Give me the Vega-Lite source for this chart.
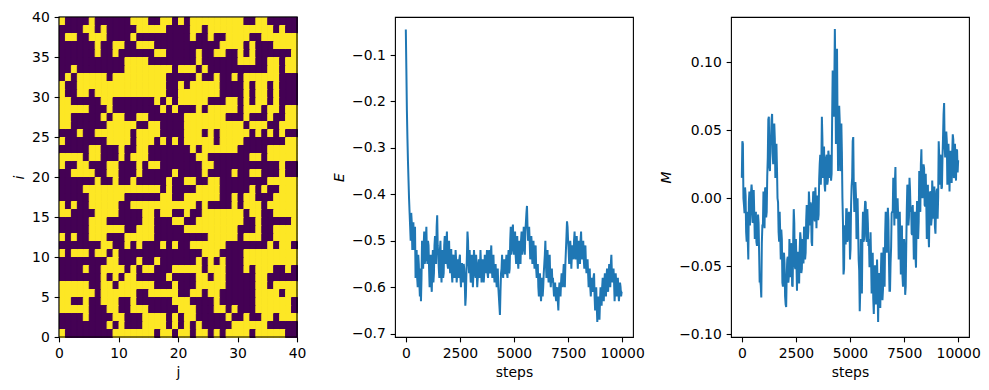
{
"$schema":"https://vega.github.io/schema/vega-lite/v6.json",
"background":"white",
"padding":{"left":12,"top":9,"right":5,"bottom":5},
"spacing":98,
"bounds":"flush",
"config":{
"font":"DejaVu Sans",
"view":{"stroke":"black","strokeWidth":1.1},
"axis":{"domain":false,"grid":false,"tickColor":"black","tickSize":4.86,"tickWidth":1.1,"labelPadding":4.86,"labelFontSize":13.9,"labelColor":"black","labelFont":"DejaVu Sans","titleFont":"DejaVu Sans","titleFontSize":13.9,"titleFontWeight":"normal","titleColor":"black","titlePadding":5,"labelFlush":false,"labelOverlap":false}
},
"datasets":{
"grid":[
{"i":39,"j":0,"s":1},{"i":39,"j":1,"s":0},{"i":39,"j":2,"s":0},{"i":39,"j":3,"s":0},{"i":39,"j":4,"s":0},{"i":39,"j":5,"s":1},{"i":39,"j":6,"s":0},{"i":39,"j":7,"s":0},{"i":39,"j":8,"s":0},{"i":39,"j":9,"s":0},{"i":39,"j":10,"s":0},{"i":39,"j":11,"s":0},{"i":39,"j":12,"s":1},{"i":39,"j":13,"s":1},{"i":39,"j":14,"s":1},{"i":39,"j":15,"s":0},{"i":39,"j":16,"s":0},{"i":39,"j":17,"s":1},{"i":39,"j":18,"s":1},{"i":39,"j":19,"s":0},{"i":39,"j":20,"s":1},{"i":39,"j":21,"s":0},{"i":39,"j":22,"s":1},{"i":39,"j":23,"s":1},{"i":39,"j":24,"s":1},{"i":39,"j":25,"s":1},{"i":39,"j":26,"s":1},{"i":39,"j":27,"s":1},{"i":39,"j":28,"s":1},{"i":39,"j":29,"s":1},{"i":39,"j":30,"s":1},{"i":39,"j":31,"s":0},{"i":39,"j":32,"s":0},{"i":39,"j":33,"s":1},{"i":39,"j":34,"s":1},{"i":39,"j":35,"s":0},{"i":39,"j":36,"s":0},{"i":39,"j":37,"s":0},{"i":39,"j":38,"s":0},{"i":39,"j":39,"s":0},
{"i":38,"j":0,"s":0},{"i":38,"j":1,"s":0},{"i":38,"j":2,"s":0},{"i":38,"j":3,"s":0},{"i":38,"j":4,"s":1},{"i":38,"j":5,"s":1},{"i":38,"j":6,"s":0},{"i":38,"j":7,"s":1},{"i":38,"j":8,"s":0},{"i":38,"j":9,"s":0},{"i":38,"j":10,"s":0},{"i":38,"j":11,"s":0},{"i":38,"j":12,"s":0},{"i":38,"j":13,"s":1},{"i":38,"j":14,"s":1},{"i":38,"j":15,"s":1},{"i":38,"j":16,"s":1},{"i":38,"j":17,"s":1},{"i":38,"j":18,"s":0},{"i":38,"j":19,"s":0},{"i":38,"j":20,"s":0},{"i":38,"j":21,"s":0},{"i":38,"j":22,"s":1},{"i":38,"j":23,"s":1},{"i":38,"j":24,"s":0},{"i":38,"j":25,"s":1},{"i":38,"j":26,"s":1},{"i":38,"j":27,"s":1},{"i":38,"j":28,"s":1},{"i":38,"j":29,"s":1},{"i":38,"j":30,"s":1},{"i":38,"j":31,"s":1},{"i":38,"j":32,"s":1},{"i":38,"j":33,"s":1},{"i":38,"j":34,"s":1},{"i":38,"j":35,"s":1},{"i":38,"j":36,"s":0},{"i":38,"j":37,"s":1},{"i":38,"j":38,"s":0},{"i":38,"j":39,"s":0},
{"i":37,"j":0,"s":0},{"i":37,"j":1,"s":1},{"i":37,"j":2,"s":1},{"i":37,"j":3,"s":0},{"i":37,"j":4,"s":0},{"i":37,"j":5,"s":1},{"i":37,"j":6,"s":1},{"i":37,"j":7,"s":1},{"i":37,"j":8,"s":0},{"i":37,"j":9,"s":0},{"i":37,"j":10,"s":0},{"i":37,"j":11,"s":0},{"i":37,"j":12,"s":1},{"i":37,"j":13,"s":0},{"i":37,"j":14,"s":0},{"i":37,"j":15,"s":0},{"i":37,"j":16,"s":0},{"i":37,"j":17,"s":0},{"i":37,"j":18,"s":0},{"i":37,"j":19,"s":0},{"i":37,"j":20,"s":0},{"i":37,"j":21,"s":0},{"i":37,"j":22,"s":1},{"i":37,"j":23,"s":0},{"i":37,"j":24,"s":0},{"i":37,"j":25,"s":1},{"i":37,"j":26,"s":0},{"i":37,"j":27,"s":0},{"i":37,"j":28,"s":1},{"i":37,"j":29,"s":1},{"i":37,"j":30,"s":1},{"i":37,"j":31,"s":1},{"i":37,"j":32,"s":0},{"i":37,"j":33,"s":0},{"i":37,"j":34,"s":1},{"i":37,"j":35,"s":1},{"i":37,"j":36,"s":1},{"i":37,"j":37,"s":1},{"i":37,"j":38,"s":1},{"i":37,"j":39,"s":1},
{"i":36,"j":0,"s":0},{"i":36,"j":1,"s":0},{"i":36,"j":2,"s":0},{"i":36,"j":3,"s":0},{"i":36,"j":4,"s":0},{"i":36,"j":5,"s":0},{"i":36,"j":6,"s":1},{"i":36,"j":7,"s":0},{"i":36,"j":8,"s":0},{"i":36,"j":9,"s":1},{"i":36,"j":10,"s":1},{"i":36,"j":11,"s":0},{"i":36,"j":12,"s":0},{"i":36,"j":13,"s":1},{"i":36,"j":14,"s":1},{"i":36,"j":15,"s":1},{"i":36,"j":16,"s":0},{"i":36,"j":17,"s":0},{"i":36,"j":18,"s":0},{"i":36,"j":19,"s":0},{"i":36,"j":20,"s":0},{"i":36,"j":21,"s":0},{"i":36,"j":22,"s":0},{"i":36,"j":23,"s":0},{"i":36,"j":24,"s":0},{"i":36,"j":25,"s":0},{"i":36,"j":26,"s":0},{"i":36,"j":27,"s":1},{"i":36,"j":28,"s":1},{"i":36,"j":29,"s":1},{"i":36,"j":30,"s":1},{"i":36,"j":31,"s":0},{"i":36,"j":32,"s":1},{"i":36,"j":33,"s":0},{"i":36,"j":34,"s":0},{"i":36,"j":35,"s":0},{"i":36,"j":36,"s":1},{"i":36,"j":37,"s":1},{"i":36,"j":38,"s":1},{"i":36,"j":39,"s":1},
{"i":35,"j":0,"s":0},{"i":35,"j":1,"s":0},{"i":35,"j":2,"s":0},{"i":35,"j":3,"s":0},{"i":35,"j":4,"s":0},{"i":35,"j":5,"s":0},{"i":35,"j":6,"s":1},{"i":35,"j":7,"s":0},{"i":35,"j":8,"s":0},{"i":35,"j":9,"s":1},{"i":35,"j":10,"s":0},{"i":35,"j":11,"s":0},{"i":35,"j":12,"s":0},{"i":35,"j":13,"s":0},{"i":35,"j":14,"s":0},{"i":35,"j":15,"s":0},{"i":35,"j":16,"s":1},{"i":35,"j":17,"s":1},{"i":35,"j":18,"s":0},{"i":35,"j":19,"s":0},{"i":35,"j":20,"s":0},{"i":35,"j":21,"s":0},{"i":35,"j":22,"s":0},{"i":35,"j":23,"s":1},{"i":35,"j":24,"s":0},{"i":35,"j":25,"s":0},{"i":35,"j":26,"s":1},{"i":35,"j":27,"s":1},{"i":35,"j":28,"s":0},{"i":35,"j":29,"s":0},{"i":35,"j":30,"s":1},{"i":35,"j":31,"s":0},{"i":35,"j":32,"s":1},{"i":35,"j":33,"s":0},{"i":35,"j":34,"s":0},{"i":35,"j":35,"s":0},{"i":35,"j":36,"s":0},{"i":35,"j":37,"s":0},{"i":35,"j":38,"s":0},{"i":35,"j":39,"s":1},
{"i":34,"j":0,"s":0},{"i":34,"j":1,"s":0},{"i":34,"j":2,"s":0},{"i":34,"j":3,"s":0},{"i":34,"j":4,"s":0},{"i":34,"j":5,"s":0},{"i":34,"j":6,"s":0},{"i":34,"j":7,"s":0},{"i":34,"j":8,"s":0},{"i":34,"j":9,"s":0},{"i":34,"j":10,"s":0},{"i":34,"j":11,"s":1},{"i":34,"j":12,"s":1},{"i":34,"j":13,"s":1},{"i":34,"j":14,"s":1},{"i":34,"j":15,"s":0},{"i":34,"j":16,"s":0},{"i":34,"j":17,"s":0},{"i":34,"j":18,"s":0},{"i":34,"j":19,"s":0},{"i":34,"j":20,"s":0},{"i":34,"j":21,"s":0},{"i":34,"j":22,"s":0},{"i":34,"j":23,"s":1},{"i":34,"j":24,"s":0},{"i":34,"j":25,"s":0},{"i":34,"j":26,"s":0},{"i":34,"j":27,"s":0},{"i":34,"j":28,"s":0},{"i":34,"j":29,"s":0},{"i":34,"j":30,"s":1},{"i":34,"j":31,"s":1},{"i":34,"j":32,"s":1},{"i":34,"j":33,"s":0},{"i":34,"j":34,"s":0},{"i":34,"j":35,"s":1},{"i":34,"j":36,"s":1},{"i":34,"j":37,"s":0},{"i":34,"j":38,"s":1},{"i":34,"j":39,"s":1},
{"i":33,"j":0,"s":0},{"i":33,"j":1,"s":0},{"i":33,"j":2,"s":1},{"i":33,"j":3,"s":0},{"i":33,"j":4,"s":0},{"i":33,"j":5,"s":0},{"i":33,"j":6,"s":0},{"i":33,"j":7,"s":0},{"i":33,"j":8,"s":0},{"i":33,"j":9,"s":0},{"i":33,"j":10,"s":0},{"i":33,"j":11,"s":1},{"i":33,"j":12,"s":1},{"i":33,"j":13,"s":1},{"i":33,"j":14,"s":1},{"i":33,"j":15,"s":1},{"i":33,"j":16,"s":1},{"i":33,"j":17,"s":1},{"i":33,"j":18,"s":1},{"i":33,"j":19,"s":0},{"i":33,"j":20,"s":1},{"i":33,"j":21,"s":1},{"i":33,"j":22,"s":1},{"i":33,"j":23,"s":0},{"i":33,"j":24,"s":1},{"i":33,"j":25,"s":0},{"i":33,"j":26,"s":0},{"i":33,"j":27,"s":0},{"i":33,"j":28,"s":0},{"i":33,"j":29,"s":0},{"i":33,"j":30,"s":0},{"i":33,"j":31,"s":0},{"i":33,"j":32,"s":0},{"i":33,"j":33,"s":0},{"i":33,"j":34,"s":0},{"i":33,"j":35,"s":1},{"i":33,"j":36,"s":1},{"i":33,"j":37,"s":0},{"i":33,"j":38,"s":1},{"i":33,"j":39,"s":1},
{"i":32,"j":0,"s":0},{"i":32,"j":1,"s":1},{"i":32,"j":2,"s":0},{"i":32,"j":3,"s":1},{"i":32,"j":4,"s":1},{"i":32,"j":5,"s":1},{"i":32,"j":6,"s":1},{"i":32,"j":7,"s":1},{"i":32,"j":8,"s":0},{"i":32,"j":9,"s":1},{"i":32,"j":10,"s":1},{"i":32,"j":11,"s":1},{"i":32,"j":12,"s":1},{"i":32,"j":13,"s":1},{"i":32,"j":14,"s":1},{"i":32,"j":15,"s":1},{"i":32,"j":16,"s":1},{"i":32,"j":17,"s":1},{"i":32,"j":18,"s":0},{"i":32,"j":19,"s":0},{"i":32,"j":20,"s":0},{"i":32,"j":21,"s":0},{"i":32,"j":22,"s":0},{"i":32,"j":23,"s":1},{"i":32,"j":24,"s":0},{"i":32,"j":25,"s":0},{"i":32,"j":26,"s":1},{"i":32,"j":27,"s":0},{"i":32,"j":28,"s":0},{"i":32,"j":29,"s":1},{"i":32,"j":30,"s":0},{"i":32,"j":31,"s":1},{"i":32,"j":32,"s":1},{"i":32,"j":33,"s":1},{"i":32,"j":34,"s":1},{"i":32,"j":35,"s":1},{"i":32,"j":36,"s":1},{"i":32,"j":37,"s":0},{"i":32,"j":38,"s":0},{"i":32,"j":39,"s":0},
{"i":31,"j":0,"s":1},{"i":31,"j":1,"s":0},{"i":31,"j":2,"s":0},{"i":31,"j":3,"s":1},{"i":31,"j":4,"s":1},{"i":31,"j":5,"s":1},{"i":31,"j":6,"s":1},{"i":31,"j":7,"s":1},{"i":31,"j":8,"s":1},{"i":31,"j":9,"s":1},{"i":31,"j":10,"s":1},{"i":31,"j":11,"s":1},{"i":31,"j":12,"s":1},{"i":31,"j":13,"s":1},{"i":31,"j":14,"s":1},{"i":31,"j":15,"s":1},{"i":31,"j":16,"s":1},{"i":31,"j":17,"s":1},{"i":31,"j":18,"s":0},{"i":31,"j":19,"s":0},{"i":31,"j":20,"s":1},{"i":31,"j":21,"s":0},{"i":31,"j":22,"s":1},{"i":31,"j":23,"s":1},{"i":31,"j":24,"s":1},{"i":31,"j":25,"s":1},{"i":31,"j":26,"s":1},{"i":31,"j":27,"s":0},{"i":31,"j":28,"s":0},{"i":31,"j":29,"s":0},{"i":31,"j":30,"s":0},{"i":31,"j":31,"s":1},{"i":31,"j":32,"s":0},{"i":31,"j":33,"s":1},{"i":31,"j":34,"s":1},{"i":31,"j":35,"s":0},{"i":31,"j":36,"s":1},{"i":31,"j":37,"s":0},{"i":31,"j":38,"s":0},{"i":31,"j":39,"s":0},
{"i":30,"j":0,"s":1},{"i":30,"j":1,"s":0},{"i":30,"j":2,"s":0},{"i":30,"j":3,"s":1},{"i":30,"j":4,"s":1},{"i":30,"j":5,"s":0},{"i":30,"j":6,"s":1},{"i":30,"j":7,"s":1},{"i":30,"j":8,"s":1},{"i":30,"j":9,"s":1},{"i":30,"j":10,"s":1},{"i":30,"j":11,"s":1},{"i":30,"j":12,"s":1},{"i":30,"j":13,"s":1},{"i":30,"j":14,"s":1},{"i":30,"j":15,"s":1},{"i":30,"j":16,"s":1},{"i":30,"j":17,"s":1},{"i":30,"j":18,"s":0},{"i":30,"j":19,"s":0},{"i":30,"j":20,"s":1},{"i":30,"j":21,"s":1},{"i":30,"j":22,"s":1},{"i":30,"j":23,"s":1},{"i":30,"j":24,"s":1},{"i":30,"j":25,"s":1},{"i":30,"j":26,"s":1},{"i":30,"j":27,"s":0},{"i":30,"j":28,"s":0},{"i":30,"j":29,"s":0},{"i":30,"j":30,"s":0},{"i":30,"j":31,"s":1},{"i":30,"j":32,"s":0},{"i":30,"j":33,"s":1},{"i":30,"j":34,"s":1},{"i":30,"j":35,"s":0},{"i":30,"j":36,"s":1},{"i":30,"j":37,"s":0},{"i":30,"j":38,"s":0},{"i":30,"j":39,"s":0},
{"i":29,"j":0,"s":1},{"i":29,"j":1,"s":1},{"i":29,"j":2,"s":0},{"i":29,"j":3,"s":0},{"i":29,"j":4,"s":0},{"i":29,"j":5,"s":0},{"i":29,"j":6,"s":0},{"i":29,"j":7,"s":1},{"i":29,"j":8,"s":1},{"i":29,"j":9,"s":0},{"i":29,"j":10,"s":0},{"i":29,"j":11,"s":0},{"i":29,"j":12,"s":0},{"i":29,"j":13,"s":0},{"i":29,"j":14,"s":0},{"i":29,"j":15,"s":0},{"i":29,"j":16,"s":1},{"i":29,"j":17,"s":0},{"i":29,"j":18,"s":1},{"i":29,"j":19,"s":0},{"i":29,"j":20,"s":1},{"i":29,"j":21,"s":1},{"i":29,"j":22,"s":1},{"i":29,"j":23,"s":1},{"i":29,"j":24,"s":1},{"i":29,"j":25,"s":0},{"i":29,"j":26,"s":0},{"i":29,"j":27,"s":0},{"i":29,"j":28,"s":1},{"i":29,"j":29,"s":1},{"i":29,"j":30,"s":0},{"i":29,"j":31,"s":1},{"i":29,"j":32,"s":0},{"i":29,"j":33,"s":1},{"i":29,"j":34,"s":1},{"i":29,"j":35,"s":0},{"i":29,"j":36,"s":1},{"i":29,"j":37,"s":0},{"i":29,"j":38,"s":0},{"i":29,"j":39,"s":0},
{"i":28,"j":0,"s":1},{"i":28,"j":1,"s":1},{"i":28,"j":2,"s":1},{"i":28,"j":3,"s":1},{"i":28,"j":4,"s":1},{"i":28,"j":5,"s":0},{"i":28,"j":6,"s":0},{"i":28,"j":7,"s":0},{"i":28,"j":8,"s":1},{"i":28,"j":9,"s":0},{"i":28,"j":10,"s":0},{"i":28,"j":11,"s":0},{"i":28,"j":12,"s":0},{"i":28,"j":13,"s":0},{"i":28,"j":14,"s":0},{"i":28,"j":15,"s":0},{"i":28,"j":16,"s":0},{"i":28,"j":17,"s":1},{"i":28,"j":18,"s":0},{"i":28,"j":19,"s":1},{"i":28,"j":20,"s":0},{"i":28,"j":21,"s":0},{"i":28,"j":22,"s":0},{"i":28,"j":23,"s":1},{"i":28,"j":24,"s":0},{"i":28,"j":25,"s":1},{"i":28,"j":26,"s":1},{"i":28,"j":27,"s":1},{"i":28,"j":28,"s":1},{"i":28,"j":29,"s":1},{"i":28,"j":30,"s":0},{"i":28,"j":31,"s":1},{"i":28,"j":32,"s":1},{"i":28,"j":33,"s":1},{"i":28,"j":34,"s":0},{"i":28,"j":35,"s":1},{"i":28,"j":36,"s":1},{"i":28,"j":37,"s":0},{"i":28,"j":38,"s":1},{"i":28,"j":39,"s":1},
{"i":27,"j":0,"s":1},{"i":27,"j":1,"s":1},{"i":27,"j":2,"s":0},{"i":27,"j":3,"s":0},{"i":27,"j":4,"s":0},{"i":27,"j":5,"s":0},{"i":27,"j":6,"s":0},{"i":27,"j":7,"s":1},{"i":27,"j":8,"s":0},{"i":27,"j":9,"s":1},{"i":27,"j":10,"s":1},{"i":27,"j":11,"s":0},{"i":27,"j":12,"s":0},{"i":27,"j":13,"s":1},{"i":27,"j":14,"s":1},{"i":27,"j":15,"s":0},{"i":27,"j":16,"s":0},{"i":27,"j":17,"s":0},{"i":27,"j":18,"s":0},{"i":27,"j":19,"s":0},{"i":27,"j":20,"s":0},{"i":27,"j":21,"s":1},{"i":27,"j":22,"s":1},{"i":27,"j":23,"s":1},{"i":27,"j":24,"s":1},{"i":27,"j":25,"s":1},{"i":27,"j":26,"s":1},{"i":27,"j":27,"s":1},{"i":27,"j":28,"s":0},{"i":27,"j":29,"s":0},{"i":27,"j":30,"s":0},{"i":27,"j":31,"s":1},{"i":27,"j":32,"s":0},{"i":27,"j":33,"s":0},{"i":27,"j":34,"s":0},{"i":27,"j":35,"s":1},{"i":27,"j":36,"s":0},{"i":27,"j":37,"s":0},{"i":27,"j":38,"s":1},{"i":27,"j":39,"s":1},
{"i":26,"j":0,"s":1},{"i":26,"j":1,"s":1},{"i":26,"j":2,"s":0},{"i":26,"j":3,"s":0},{"i":26,"j":4,"s":0},{"i":26,"j":5,"s":0},{"i":26,"j":6,"s":0},{"i":26,"j":7,"s":0},{"i":26,"j":8,"s":1},{"i":26,"j":9,"s":1},{"i":26,"j":10,"s":1},{"i":26,"j":11,"s":1},{"i":26,"j":12,"s":1},{"i":26,"j":13,"s":0},{"i":26,"j":14,"s":0},{"i":26,"j":15,"s":1},{"i":26,"j":16,"s":1},{"i":26,"j":17,"s":0},{"i":26,"j":18,"s":0},{"i":26,"j":19,"s":0},{"i":26,"j":20,"s":0},{"i":26,"j":21,"s":1},{"i":26,"j":22,"s":1},{"i":26,"j":23,"s":1},{"i":26,"j":24,"s":1},{"i":26,"j":25,"s":1},{"i":26,"j":26,"s":1},{"i":26,"j":27,"s":1},{"i":26,"j":28,"s":1},{"i":26,"j":29,"s":1},{"i":26,"j":30,"s":1},{"i":26,"j":31,"s":0},{"i":26,"j":32,"s":1},{"i":26,"j":33,"s":1},{"i":26,"j":34,"s":1},{"i":26,"j":35,"s":0},{"i":26,"j":36,"s":0},{"i":26,"j":37,"s":1},{"i":26,"j":38,"s":1},{"i":26,"j":39,"s":1},
{"i":25,"j":0,"s":0},{"i":25,"j":1,"s":0},{"i":25,"j":2,"s":0},{"i":25,"j":3,"s":1},{"i":25,"j":4,"s":0},{"i":25,"j":5,"s":0},{"i":25,"j":6,"s":1},{"i":25,"j":7,"s":1},{"i":25,"j":8,"s":1},{"i":25,"j":9,"s":1},{"i":25,"j":10,"s":1},{"i":25,"j":11,"s":1},{"i":25,"j":12,"s":0},{"i":25,"j":13,"s":1},{"i":25,"j":14,"s":1},{"i":25,"j":15,"s":1},{"i":25,"j":16,"s":1},{"i":25,"j":17,"s":0},{"i":25,"j":18,"s":0},{"i":25,"j":19,"s":0},{"i":25,"j":20,"s":0},{"i":25,"j":21,"s":1},{"i":25,"j":22,"s":1},{"i":25,"j":23,"s":1},{"i":25,"j":24,"s":0},{"i":25,"j":25,"s":1},{"i":25,"j":26,"s":0},{"i":25,"j":27,"s":1},{"i":25,"j":28,"s":1},{"i":25,"j":29,"s":1},{"i":25,"j":30,"s":1},{"i":25,"j":31,"s":1},{"i":25,"j":32,"s":0},{"i":25,"j":33,"s":1},{"i":25,"j":34,"s":0},{"i":25,"j":35,"s":1},{"i":25,"j":36,"s":0},{"i":25,"j":37,"s":1},{"i":25,"j":38,"s":0},{"i":25,"j":39,"s":0},
{"i":24,"j":0,"s":1},{"i":24,"j":1,"s":0},{"i":24,"j":2,"s":0},{"i":24,"j":3,"s":0},{"i":24,"j":4,"s":0},{"i":24,"j":5,"s":0},{"i":24,"j":6,"s":0},{"i":24,"j":7,"s":0},{"i":24,"j":8,"s":1},{"i":24,"j":9,"s":1},{"i":24,"j":10,"s":1},{"i":24,"j":11,"s":1},{"i":24,"j":12,"s":0},{"i":24,"j":13,"s":1},{"i":24,"j":14,"s":1},{"i":24,"j":15,"s":1},{"i":24,"j":16,"s":0},{"i":24,"j":17,"s":1},{"i":24,"j":18,"s":0},{"i":24,"j":19,"s":1},{"i":24,"j":20,"s":0},{"i":24,"j":21,"s":1},{"i":24,"j":22,"s":1},{"i":24,"j":23,"s":1},{"i":24,"j":24,"s":1},{"i":24,"j":25,"s":1},{"i":24,"j":26,"s":0},{"i":24,"j":27,"s":1},{"i":24,"j":28,"s":1},{"i":24,"j":29,"s":1},{"i":24,"j":30,"s":1},{"i":24,"j":31,"s":0},{"i":24,"j":32,"s":0},{"i":24,"j":33,"s":0},{"i":24,"j":34,"s":0},{"i":24,"j":35,"s":0},{"i":24,"j":36,"s":0},{"i":24,"j":37,"s":0},{"i":24,"j":38,"s":1},{"i":24,"j":39,"s":1},
{"i":23,"j":0,"s":0},{"i":23,"j":1,"s":0},{"i":23,"j":2,"s":0},{"i":23,"j":3,"s":0},{"i":23,"j":4,"s":0},{"i":23,"j":5,"s":1},{"i":23,"j":6,"s":1},{"i":23,"j":7,"s":0},{"i":23,"j":8,"s":0},{"i":23,"j":9,"s":0},{"i":23,"j":10,"s":1},{"i":23,"j":11,"s":0},{"i":23,"j":12,"s":0},{"i":23,"j":13,"s":1},{"i":23,"j":14,"s":1},{"i":23,"j":15,"s":0},{"i":23,"j":16,"s":0},{"i":23,"j":17,"s":0},{"i":23,"j":18,"s":0},{"i":23,"j":19,"s":0},{"i":23,"j":20,"s":0},{"i":23,"j":21,"s":0},{"i":23,"j":22,"s":1},{"i":23,"j":23,"s":0},{"i":23,"j":24,"s":1},{"i":23,"j":25,"s":1},{"i":23,"j":26,"s":1},{"i":23,"j":27,"s":1},{"i":23,"j":28,"s":1},{"i":23,"j":29,"s":1},{"i":23,"j":30,"s":0},{"i":23,"j":31,"s":0},{"i":23,"j":32,"s":0},{"i":23,"j":33,"s":0},{"i":23,"j":34,"s":0},{"i":23,"j":35,"s":1},{"i":23,"j":36,"s":1},{"i":23,"j":37,"s":1},{"i":23,"j":38,"s":1},{"i":23,"j":39,"s":1},
{"i":22,"j":0,"s":1},{"i":22,"j":1,"s":1},{"i":22,"j":2,"s":1},{"i":22,"j":3,"s":1},{"i":22,"j":4,"s":0},{"i":22,"j":5,"s":1},{"i":22,"j":6,"s":1},{"i":22,"j":7,"s":0},{"i":22,"j":8,"s":0},{"i":22,"j":9,"s":0},{"i":22,"j":10,"s":1},{"i":22,"j":11,"s":0},{"i":22,"j":12,"s":1},{"i":22,"j":13,"s":1},{"i":22,"j":14,"s":1},{"i":22,"j":15,"s":0},{"i":22,"j":16,"s":0},{"i":22,"j":17,"s":0},{"i":22,"j":18,"s":0},{"i":22,"j":19,"s":0},{"i":22,"j":20,"s":0},{"i":22,"j":21,"s":0},{"i":22,"j":22,"s":0},{"i":22,"j":23,"s":1},{"i":22,"j":24,"s":1},{"i":22,"j":25,"s":0},{"i":22,"j":26,"s":0},{"i":22,"j":27,"s":0},{"i":22,"j":28,"s":0},{"i":22,"j":29,"s":0},{"i":22,"j":30,"s":0},{"i":22,"j":31,"s":0},{"i":22,"j":32,"s":1},{"i":22,"j":33,"s":1},{"i":22,"j":34,"s":0},{"i":22,"j":35,"s":1},{"i":22,"j":36,"s":1},{"i":22,"j":37,"s":1},{"i":22,"j":38,"s":1},{"i":22,"j":39,"s":1},
{"i":21,"j":0,"s":1},{"i":21,"j":1,"s":0},{"i":21,"j":2,"s":0},{"i":21,"j":3,"s":1},{"i":21,"j":4,"s":1},{"i":21,"j":5,"s":0},{"i":21,"j":6,"s":0},{"i":21,"j":7,"s":0},{"i":21,"j":8,"s":1},{"i":21,"j":9,"s":1},{"i":21,"j":10,"s":0},{"i":21,"j":11,"s":0},{"i":21,"j":12,"s":0},{"i":21,"j":13,"s":1},{"i":21,"j":14,"s":0},{"i":21,"j":15,"s":1},{"i":21,"j":16,"s":1},{"i":21,"j":17,"s":0},{"i":21,"j":18,"s":0},{"i":21,"j":19,"s":0},{"i":21,"j":20,"s":0},{"i":21,"j":21,"s":0},{"i":21,"j":22,"s":0},{"i":21,"j":23,"s":0},{"i":21,"j":24,"s":1},{"i":21,"j":25,"s":1},{"i":21,"j":26,"s":0},{"i":21,"j":27,"s":0},{"i":21,"j":28,"s":0},{"i":21,"j":29,"s":0},{"i":21,"j":30,"s":0},{"i":21,"j":31,"s":0},{"i":21,"j":32,"s":0},{"i":21,"j":33,"s":0},{"i":21,"j":34,"s":0},{"i":21,"j":35,"s":0},{"i":21,"j":36,"s":0},{"i":21,"j":37,"s":1},{"i":21,"j":38,"s":0},{"i":21,"j":39,"s":0},
{"i":20,"j":0,"s":0},{"i":20,"j":1,"s":0},{"i":20,"j":2,"s":1},{"i":20,"j":3,"s":1},{"i":20,"j":4,"s":1},{"i":20,"j":5,"s":1},{"i":20,"j":6,"s":0},{"i":20,"j":7,"s":0},{"i":20,"j":8,"s":1},{"i":20,"j":9,"s":1},{"i":20,"j":10,"s":0},{"i":20,"j":11,"s":0},{"i":20,"j":12,"s":0},{"i":20,"j":13,"s":1},{"i":20,"j":14,"s":0},{"i":20,"j":15,"s":0},{"i":20,"j":16,"s":0},{"i":20,"j":17,"s":0},{"i":20,"j":18,"s":0},{"i":20,"j":19,"s":1},{"i":20,"j":20,"s":0},{"i":20,"j":21,"s":0},{"i":20,"j":22,"s":0},{"i":20,"j":23,"s":0},{"i":20,"j":24,"s":1},{"i":20,"j":25,"s":0},{"i":20,"j":26,"s":0},{"i":20,"j":27,"s":0},{"i":20,"j":28,"s":0},{"i":20,"j":29,"s":1},{"i":20,"j":30,"s":0},{"i":20,"j":31,"s":0},{"i":20,"j":32,"s":1},{"i":20,"j":33,"s":1},{"i":20,"j":34,"s":0},{"i":20,"j":35,"s":0},{"i":20,"j":36,"s":0},{"i":20,"j":37,"s":1},{"i":20,"j":38,"s":0},{"i":20,"j":39,"s":0},
{"i":19,"j":0,"s":0},{"i":19,"j":1,"s":0},{"i":19,"j":2,"s":0},{"i":19,"j":3,"s":0},{"i":19,"j":4,"s":0},{"i":19,"j":5,"s":0},{"i":19,"j":6,"s":1},{"i":19,"j":7,"s":0},{"i":19,"j":8,"s":0},{"i":19,"j":9,"s":1},{"i":19,"j":10,"s":0},{"i":19,"j":11,"s":0},{"i":19,"j":12,"s":1},{"i":19,"j":13,"s":0},{"i":19,"j":14,"s":0},{"i":19,"j":15,"s":0},{"i":19,"j":16,"s":0},{"i":19,"j":17,"s":0},{"i":19,"j":18,"s":1},{"i":19,"j":19,"s":0},{"i":19,"j":20,"s":0},{"i":19,"j":21,"s":1},{"i":19,"j":22,"s":1},{"i":19,"j":23,"s":0},{"i":19,"j":24,"s":0},{"i":19,"j":25,"s":1},{"i":19,"j":26,"s":1},{"i":19,"j":27,"s":0},{"i":19,"j":28,"s":0},{"i":19,"j":29,"s":0},{"i":19,"j":30,"s":0},{"i":19,"j":31,"s":0},{"i":19,"j":32,"s":0},{"i":19,"j":33,"s":0},{"i":19,"j":34,"s":0},{"i":19,"j":35,"s":1},{"i":19,"j":36,"s":1},{"i":19,"j":37,"s":1},{"i":19,"j":38,"s":1},{"i":19,"j":39,"s":1},
{"i":18,"j":0,"s":0},{"i":18,"j":1,"s":0},{"i":18,"j":2,"s":0},{"i":18,"j":3,"s":0},{"i":18,"j":4,"s":1},{"i":18,"j":5,"s":1},{"i":18,"j":6,"s":1},{"i":18,"j":7,"s":1},{"i":18,"j":8,"s":1},{"i":18,"j":9,"s":1},{"i":18,"j":10,"s":1},{"i":18,"j":11,"s":1},{"i":18,"j":12,"s":1},{"i":18,"j":13,"s":1},{"i":18,"j":14,"s":1},{"i":18,"j":15,"s":1},{"i":18,"j":16,"s":1},{"i":18,"j":17,"s":0},{"i":18,"j":18,"s":1},{"i":18,"j":19,"s":0},{"i":18,"j":20,"s":0},{"i":18,"j":21,"s":0},{"i":18,"j":22,"s":0},{"i":18,"j":23,"s":1},{"i":18,"j":24,"s":1},{"i":18,"j":25,"s":1},{"i":18,"j":26,"s":1},{"i":18,"j":27,"s":0},{"i":18,"j":28,"s":0},{"i":18,"j":29,"s":0},{"i":18,"j":30,"s":0},{"i":18,"j":31,"s":0},{"i":18,"j":32,"s":1},{"i":18,"j":33,"s":0},{"i":18,"j":34,"s":1},{"i":18,"j":35,"s":0},{"i":18,"j":36,"s":0},{"i":18,"j":37,"s":1},{"i":18,"j":38,"s":1},{"i":18,"j":39,"s":1},
{"i":17,"j":0,"s":0},{"i":17,"j":1,"s":0},{"i":17,"j":2,"s":0},{"i":17,"j":3,"s":0},{"i":17,"j":4,"s":0},{"i":17,"j":5,"s":1},{"i":17,"j":6,"s":1},{"i":17,"j":7,"s":1},{"i":17,"j":8,"s":1},{"i":17,"j":9,"s":1},{"i":17,"j":10,"s":1},{"i":17,"j":11,"s":0},{"i":17,"j":12,"s":0},{"i":17,"j":13,"s":0},{"i":17,"j":14,"s":0},{"i":17,"j":15,"s":0},{"i":17,"j":16,"s":0},{"i":17,"j":17,"s":1},{"i":17,"j":18,"s":1},{"i":17,"j":19,"s":0},{"i":17,"j":20,"s":0},{"i":17,"j":21,"s":1},{"i":17,"j":22,"s":1},{"i":17,"j":23,"s":1},{"i":17,"j":24,"s":1},{"i":17,"j":25,"s":1},{"i":17,"j":26,"s":1},{"i":17,"j":27,"s":0},{"i":17,"j":28,"s":0},{"i":17,"j":29,"s":1},{"i":17,"j":30,"s":0},{"i":17,"j":31,"s":1},{"i":17,"j":32,"s":1},{"i":17,"j":33,"s":0},{"i":17,"j":34,"s":0},{"i":17,"j":35,"s":0},{"i":17,"j":36,"s":1},{"i":17,"j":37,"s":1},{"i":17,"j":38,"s":1},{"i":17,"j":39,"s":1},
{"i":16,"j":0,"s":1},{"i":16,"j":1,"s":0},{"i":16,"j":2,"s":1},{"i":16,"j":3,"s":0},{"i":16,"j":4,"s":0},{"i":16,"j":5,"s":1},{"i":16,"j":6,"s":1},{"i":16,"j":7,"s":1},{"i":16,"j":8,"s":1},{"i":16,"j":9,"s":1},{"i":16,"j":10,"s":0},{"i":16,"j":11,"s":0},{"i":16,"j":12,"s":1},{"i":16,"j":13,"s":1},{"i":16,"j":14,"s":1},{"i":16,"j":15,"s":1},{"i":16,"j":16,"s":1},{"i":16,"j":17,"s":1},{"i":16,"j":18,"s":1},{"i":16,"j":19,"s":1},{"i":16,"j":20,"s":1},{"i":16,"j":21,"s":1},{"i":16,"j":22,"s":1},{"i":16,"j":23,"s":0},{"i":16,"j":24,"s":1},{"i":16,"j":25,"s":0},{"i":16,"j":26,"s":0},{"i":16,"j":27,"s":0},{"i":16,"j":28,"s":0},{"i":16,"j":29,"s":1},{"i":16,"j":30,"s":0},{"i":16,"j":31,"s":1},{"i":16,"j":32,"s":1},{"i":16,"j":33,"s":1},{"i":16,"j":34,"s":0},{"i":16,"j":35,"s":1},{"i":16,"j":36,"s":1},{"i":16,"j":37,"s":1},{"i":16,"j":38,"s":1},{"i":16,"j":39,"s":1},
{"i":15,"j":0,"s":1},{"i":15,"j":1,"s":1},{"i":15,"j":2,"s":0},{"i":15,"j":3,"s":0},{"i":15,"j":4,"s":0},{"i":15,"j":5,"s":0},{"i":15,"j":6,"s":1},{"i":15,"j":7,"s":1},{"i":15,"j":8,"s":1},{"i":15,"j":9,"s":1},{"i":15,"j":10,"s":0},{"i":15,"j":11,"s":0},{"i":15,"j":12,"s":0},{"i":15,"j":13,"s":0},{"i":15,"j":14,"s":1},{"i":15,"j":15,"s":1},{"i":15,"j":16,"s":0},{"i":15,"j":17,"s":1},{"i":15,"j":18,"s":1},{"i":15,"j":19,"s":0},{"i":15,"j":20,"s":0},{"i":15,"j":21,"s":1},{"i":15,"j":22,"s":0},{"i":15,"j":23,"s":0},{"i":15,"j":24,"s":1},{"i":15,"j":25,"s":1},{"i":15,"j":26,"s":1},{"i":15,"j":27,"s":1},{"i":15,"j":28,"s":1},{"i":15,"j":29,"s":1},{"i":15,"j":30,"s":1},{"i":15,"j":31,"s":0},{"i":15,"j":32,"s":1},{"i":15,"j":33,"s":1},{"i":15,"j":34,"s":0},{"i":15,"j":35,"s":0},{"i":15,"j":36,"s":1},{"i":15,"j":37,"s":1},{"i":15,"j":38,"s":1},{"i":15,"j":39,"s":1},
{"i":14,"j":0,"s":0},{"i":14,"j":1,"s":0},{"i":14,"j":2,"s":0},{"i":14,"j":3,"s":0},{"i":14,"j":4,"s":0},{"i":14,"j":5,"s":1},{"i":14,"j":6,"s":1},{"i":14,"j":7,"s":1},{"i":14,"j":8,"s":0},{"i":14,"j":9,"s":0},{"i":14,"j":10,"s":0},{"i":14,"j":11,"s":0},{"i":14,"j":12,"s":0},{"i":14,"j":13,"s":0},{"i":14,"j":14,"s":1},{"i":14,"j":15,"s":1},{"i":14,"j":16,"s":0},{"i":14,"j":17,"s":0},{"i":14,"j":18,"s":0},{"i":14,"j":19,"s":1},{"i":14,"j":20,"s":1},{"i":14,"j":21,"s":0},{"i":14,"j":22,"s":0},{"i":14,"j":23,"s":1},{"i":14,"j":24,"s":1},{"i":14,"j":25,"s":1},{"i":14,"j":26,"s":1},{"i":14,"j":27,"s":1},{"i":14,"j":28,"s":1},{"i":14,"j":29,"s":1},{"i":14,"j":30,"s":1},{"i":14,"j":31,"s":0},{"i":14,"j":32,"s":0},{"i":14,"j":33,"s":1},{"i":14,"j":34,"s":0},{"i":14,"j":35,"s":0},{"i":14,"j":36,"s":0},{"i":14,"j":37,"s":0},{"i":14,"j":38,"s":0},{"i":14,"j":39,"s":1},
{"i":13,"j":0,"s":0},{"i":13,"j":1,"s":0},{"i":13,"j":2,"s":0},{"i":13,"j":3,"s":0},{"i":13,"j":4,"s":0},{"i":13,"j":5,"s":1},{"i":13,"j":6,"s":1},{"i":13,"j":7,"s":1},{"i":13,"j":8,"s":1},{"i":13,"j":9,"s":1},{"i":13,"j":10,"s":1},{"i":13,"j":11,"s":0},{"i":13,"j":12,"s":0},{"i":13,"j":13,"s":1},{"i":13,"j":14,"s":1},{"i":13,"j":15,"s":1},{"i":13,"j":16,"s":0},{"i":13,"j":17,"s":0},{"i":13,"j":18,"s":0},{"i":13,"j":19,"s":0},{"i":13,"j":20,"s":0},{"i":13,"j":21,"s":1},{"i":13,"j":22,"s":1},{"i":13,"j":23,"s":1},{"i":13,"j":24,"s":1},{"i":13,"j":25,"s":1},{"i":13,"j":26,"s":1},{"i":13,"j":27,"s":1},{"i":13,"j":28,"s":1},{"i":13,"j":29,"s":1},{"i":13,"j":30,"s":0},{"i":13,"j":31,"s":0},{"i":13,"j":32,"s":0},{"i":13,"j":33,"s":1},{"i":13,"j":34,"s":0},{"i":13,"j":35,"s":0},{"i":13,"j":36,"s":1},{"i":13,"j":37,"s":1},{"i":13,"j":38,"s":1},{"i":13,"j":39,"s":1},
{"i":12,"j":0,"s":1},{"i":12,"j":1,"s":0},{"i":12,"j":2,"s":1},{"i":12,"j":3,"s":0},{"i":12,"j":4,"s":0},{"i":12,"j":5,"s":1},{"i":12,"j":6,"s":1},{"i":12,"j":7,"s":1},{"i":12,"j":8,"s":0},{"i":12,"j":9,"s":0},{"i":12,"j":10,"s":0},{"i":12,"j":11,"s":1},{"i":12,"j":12,"s":1},{"i":12,"j":13,"s":1},{"i":12,"j":14,"s":1},{"i":12,"j":15,"s":1},{"i":12,"j":16,"s":0},{"i":12,"j":17,"s":0},{"i":12,"j":18,"s":0},{"i":12,"j":19,"s":0},{"i":12,"j":20,"s":0},{"i":12,"j":21,"s":0},{"i":12,"j":22,"s":0},{"i":12,"j":23,"s":0},{"i":12,"j":24,"s":0},{"i":12,"j":25,"s":1},{"i":12,"j":26,"s":1},{"i":12,"j":27,"s":1},{"i":12,"j":28,"s":1},{"i":12,"j":29,"s":1},{"i":12,"j":30,"s":0},{"i":12,"j":31,"s":1},{"i":12,"j":32,"s":1},{"i":12,"j":33,"s":1},{"i":12,"j":34,"s":0},{"i":12,"j":35,"s":0},{"i":12,"j":36,"s":1},{"i":12,"j":37,"s":1},{"i":12,"j":38,"s":1},{"i":12,"j":39,"s":1},
{"i":11,"j":0,"s":0},{"i":11,"j":1,"s":0},{"i":11,"j":2,"s":0},{"i":11,"j":3,"s":0},{"i":11,"j":4,"s":0},{"i":11,"j":5,"s":0},{"i":11,"j":6,"s":0},{"i":11,"j":7,"s":1},{"i":11,"j":8,"s":1},{"i":11,"j":9,"s":0},{"i":11,"j":10,"s":0},{"i":11,"j":11,"s":1},{"i":11,"j":12,"s":0},{"i":11,"j":13,"s":1},{"i":11,"j":14,"s":0},{"i":11,"j":15,"s":0},{"i":11,"j":16,"s":0},{"i":11,"j":17,"s":1},{"i":11,"j":18,"s":0},{"i":11,"j":19,"s":1},{"i":11,"j":20,"s":0},{"i":11,"j":21,"s":0},{"i":11,"j":22,"s":1},{"i":11,"j":23,"s":1},{"i":11,"j":24,"s":1},{"i":11,"j":25,"s":1},{"i":11,"j":26,"s":1},{"i":11,"j":27,"s":1},{"i":11,"j":28,"s":0},{"i":11,"j":29,"s":0},{"i":11,"j":30,"s":0},{"i":11,"j":31,"s":0},{"i":11,"j":32,"s":0},{"i":11,"j":33,"s":0},{"i":11,"j":34,"s":0},{"i":11,"j":35,"s":1},{"i":11,"j":36,"s":0},{"i":11,"j":37,"s":1},{"i":11,"j":38,"s":1},{"i":11,"j":39,"s":0},
{"i":10,"j":0,"s":1},{"i":10,"j":1,"s":0},{"i":10,"j":2,"s":1},{"i":10,"j":3,"s":1},{"i":10,"j":4,"s":1},{"i":10,"j":5,"s":0},{"i":10,"j":6,"s":1},{"i":10,"j":7,"s":1},{"i":10,"j":8,"s":0},{"i":10,"j":9,"s":1},{"i":10,"j":10,"s":0},{"i":10,"j":11,"s":0},{"i":10,"j":12,"s":0},{"i":10,"j":13,"s":0},{"i":10,"j":14,"s":0},{"i":10,"j":15,"s":0},{"i":10,"j":16,"s":0},{"i":10,"j":17,"s":0},{"i":10,"j":18,"s":0},{"i":10,"j":19,"s":0},{"i":10,"j":20,"s":0},{"i":10,"j":21,"s":0},{"i":10,"j":22,"s":0},{"i":10,"j":23,"s":0},{"i":10,"j":24,"s":1},{"i":10,"j":25,"s":1},{"i":10,"j":26,"s":1},{"i":10,"j":27,"s":0},{"i":10,"j":28,"s":0},{"i":10,"j":29,"s":0},{"i":10,"j":30,"s":0},{"i":10,"j":31,"s":1},{"i":10,"j":32,"s":1},{"i":10,"j":33,"s":1},{"i":10,"j":34,"s":1},{"i":10,"j":35,"s":1},{"i":10,"j":36,"s":1},{"i":10,"j":37,"s":1},{"i":10,"j":38,"s":1},{"i":10,"j":39,"s":1},
{"i":9,"j":0,"s":0},{"i":9,"j":1,"s":0},{"i":9,"j":2,"s":0},{"i":9,"j":3,"s":0},{"i":9,"j":4,"s":0},{"i":9,"j":5,"s":0},{"i":9,"j":6,"s":0},{"i":9,"j":7,"s":0},{"i":9,"j":8,"s":1},{"i":9,"j":9,"s":1},{"i":9,"j":10,"s":0},{"i":9,"j":11,"s":0},{"i":9,"j":12,"s":0},{"i":9,"j":13,"s":1},{"i":9,"j":14,"s":0},{"i":9,"j":15,"s":0},{"i":9,"j":16,"s":1},{"i":9,"j":17,"s":0},{"i":9,"j":18,"s":0},{"i":9,"j":19,"s":0},{"i":9,"j":20,"s":0},{"i":9,"j":21,"s":0},{"i":9,"j":22,"s":0},{"i":9,"j":23,"s":1},{"i":9,"j":24,"s":0},{"i":9,"j":25,"s":1},{"i":9,"j":26,"s":0},{"i":9,"j":27,"s":1},{"i":9,"j":28,"s":0},{"i":9,"j":29,"s":0},{"i":9,"j":30,"s":0},{"i":9,"j":31,"s":1},{"i":9,"j":32,"s":1},{"i":9,"j":33,"s":1},{"i":9,"j":34,"s":1},{"i":9,"j":35,"s":1},{"i":9,"j":36,"s":1},{"i":9,"j":37,"s":1},{"i":9,"j":38,"s":1},{"i":9,"j":39,"s":1},
{"i":8,"j":0,"s":0},{"i":8,"j":1,"s":0},{"i":8,"j":2,"s":0},{"i":8,"j":3,"s":0},{"i":8,"j":4,"s":1},{"i":8,"j":5,"s":0},{"i":8,"j":6,"s":0},{"i":8,"j":7,"s":1},{"i":8,"j":8,"s":1},{"i":8,"j":9,"s":1},{"i":8,"j":10,"s":1},{"i":8,"j":11,"s":0},{"i":8,"j":12,"s":1},{"i":8,"j":13,"s":0},{"i":8,"j":14,"s":1},{"i":8,"j":15,"s":1},{"i":8,"j":16,"s":0},{"i":8,"j":17,"s":0},{"i":8,"j":18,"s":0},{"i":8,"j":19,"s":1},{"i":8,"j":20,"s":1},{"i":8,"j":21,"s":1},{"i":8,"j":22,"s":1},{"i":8,"j":23,"s":1},{"i":8,"j":24,"s":0},{"i":8,"j":25,"s":1},{"i":8,"j":26,"s":1},{"i":8,"j":27,"s":1},{"i":8,"j":28,"s":0},{"i":8,"j":29,"s":0},{"i":8,"j":30,"s":0},{"i":8,"j":31,"s":1},{"i":8,"j":32,"s":0},{"i":8,"j":33,"s":1},{"i":8,"j":34,"s":1},{"i":8,"j":35,"s":1},{"i":8,"j":36,"s":0},{"i":8,"j":37,"s":0},{"i":8,"j":38,"s":1},{"i":8,"j":39,"s":0},
{"i":7,"j":0,"s":0},{"i":7,"j":1,"s":0},{"i":7,"j":2,"s":0},{"i":7,"j":3,"s":0},{"i":7,"j":4,"s":0},{"i":7,"j":5,"s":0},{"i":7,"j":6,"s":0},{"i":7,"j":7,"s":1},{"i":7,"j":8,"s":0},{"i":7,"j":9,"s":1},{"i":7,"j":10,"s":0},{"i":7,"j":11,"s":1},{"i":7,"j":12,"s":1},{"i":7,"j":13,"s":0},{"i":7,"j":14,"s":0},{"i":7,"j":15,"s":0},{"i":7,"j":16,"s":0},{"i":7,"j":17,"s":0},{"i":7,"j":18,"s":1},{"i":7,"j":19,"s":0},{"i":7,"j":20,"s":0},{"i":7,"j":21,"s":0},{"i":7,"j":22,"s":0},{"i":7,"j":23,"s":1},{"i":7,"j":24,"s":1},{"i":7,"j":25,"s":0},{"i":7,"j":26,"s":1},{"i":7,"j":27,"s":1},{"i":7,"j":28,"s":0},{"i":7,"j":29,"s":0},{"i":7,"j":30,"s":0},{"i":7,"j":31,"s":0},{"i":7,"j":32,"s":0},{"i":7,"j":33,"s":1},{"i":7,"j":34,"s":1},{"i":7,"j":35,"s":0},{"i":7,"j":36,"s":0},{"i":7,"j":37,"s":0},{"i":7,"j":38,"s":0},{"i":7,"j":39,"s":0},
{"i":6,"j":0,"s":1},{"i":6,"j":1,"s":1},{"i":6,"j":2,"s":1},{"i":6,"j":3,"s":1},{"i":6,"j":4,"s":1},{"i":6,"j":5,"s":0},{"i":6,"j":6,"s":0},{"i":6,"j":7,"s":1},{"i":6,"j":8,"s":1},{"i":6,"j":9,"s":0},{"i":6,"j":10,"s":1},{"i":6,"j":11,"s":1},{"i":6,"j":12,"s":1},{"i":6,"j":13,"s":1},{"i":6,"j":14,"s":1},{"i":6,"j":15,"s":1},{"i":6,"j":16,"s":0},{"i":6,"j":17,"s":0},{"i":6,"j":18,"s":0},{"i":6,"j":19,"s":1},{"i":6,"j":20,"s":0},{"i":6,"j":21,"s":0},{"i":6,"j":22,"s":0},{"i":6,"j":23,"s":1},{"i":6,"j":24,"s":1},{"i":6,"j":25,"s":1},{"i":6,"j":26,"s":1},{"i":6,"j":27,"s":1},{"i":6,"j":28,"s":0},{"i":6,"j":29,"s":0},{"i":6,"j":30,"s":0},{"i":6,"j":31,"s":0},{"i":6,"j":32,"s":0},{"i":6,"j":33,"s":1},{"i":6,"j":34,"s":1},{"i":6,"j":35,"s":0},{"i":6,"j":36,"s":1},{"i":6,"j":37,"s":1},{"i":6,"j":38,"s":1},{"i":6,"j":39,"s":1},
{"i":5,"j":0,"s":1},{"i":5,"j":1,"s":1},{"i":5,"j":2,"s":1},{"i":5,"j":3,"s":1},{"i":5,"j":4,"s":1},{"i":5,"j":5,"s":1},{"i":5,"j":6,"s":0},{"i":5,"j":7,"s":1},{"i":5,"j":8,"s":1},{"i":5,"j":9,"s":1},{"i":5,"j":10,"s":1},{"i":5,"j":11,"s":1},{"i":5,"j":12,"s":1},{"i":5,"j":13,"s":0},{"i":5,"j":14,"s":0},{"i":5,"j":15,"s":1},{"i":5,"j":16,"s":1},{"i":5,"j":17,"s":1},{"i":5,"j":18,"s":1},{"i":5,"j":19,"s":1},{"i":5,"j":20,"s":0},{"i":5,"j":21,"s":0},{"i":5,"j":22,"s":1},{"i":5,"j":23,"s":1},{"i":5,"j":24,"s":0},{"i":5,"j":25,"s":1},{"i":5,"j":26,"s":1},{"i":5,"j":27,"s":0},{"i":5,"j":28,"s":0},{"i":5,"j":29,"s":0},{"i":5,"j":30,"s":0},{"i":5,"j":31,"s":0},{"i":5,"j":32,"s":0},{"i":5,"j":33,"s":1},{"i":5,"j":34,"s":1},{"i":5,"j":35,"s":1},{"i":5,"j":36,"s":1},{"i":5,"j":37,"s":0},{"i":5,"j":38,"s":1},{"i":5,"j":39,"s":1},
{"i":4,"j":0,"s":1},{"i":4,"j":1,"s":1},{"i":4,"j":2,"s":0},{"i":4,"j":3,"s":0},{"i":4,"j":4,"s":1},{"i":4,"j":5,"s":0},{"i":4,"j":6,"s":0},{"i":4,"j":7,"s":1},{"i":4,"j":8,"s":1},{"i":4,"j":9,"s":1},{"i":4,"j":10,"s":0},{"i":4,"j":11,"s":0},{"i":4,"j":12,"s":1},{"i":4,"j":13,"s":0},{"i":4,"j":14,"s":0},{"i":4,"j":15,"s":0},{"i":4,"j":16,"s":0},{"i":4,"j":17,"s":0},{"i":4,"j":18,"s":0},{"i":4,"j":19,"s":1},{"i":4,"j":20,"s":1},{"i":4,"j":21,"s":1},{"i":4,"j":22,"s":0},{"i":4,"j":23,"s":0},{"i":4,"j":24,"s":0},{"i":4,"j":25,"s":0},{"i":4,"j":26,"s":1},{"i":4,"j":27,"s":0},{"i":4,"j":28,"s":0},{"i":4,"j":29,"s":0},{"i":4,"j":30,"s":0},{"i":4,"j":31,"s":0},{"i":4,"j":32,"s":0},{"i":4,"j":33,"s":1},{"i":4,"j":34,"s":1},{"i":4,"j":35,"s":1},{"i":4,"j":36,"s":1},{"i":4,"j":37,"s":1},{"i":4,"j":38,"s":1},{"i":4,"j":39,"s":0},
{"i":3,"j":0,"s":1},{"i":3,"j":1,"s":1},{"i":3,"j":2,"s":1},{"i":3,"j":3,"s":1},{"i":3,"j":4,"s":1},{"i":3,"j":5,"s":0},{"i":3,"j":6,"s":0},{"i":3,"j":7,"s":0},{"i":3,"j":8,"s":1},{"i":3,"j":9,"s":1},{"i":3,"j":10,"s":0},{"i":3,"j":11,"s":0},{"i":3,"j":12,"s":1},{"i":3,"j":13,"s":1},{"i":3,"j":14,"s":1},{"i":3,"j":15,"s":0},{"i":3,"j":16,"s":0},{"i":3,"j":17,"s":0},{"i":3,"j":18,"s":0},{"i":3,"j":19,"s":0},{"i":3,"j":20,"s":1},{"i":3,"j":21,"s":1},{"i":3,"j":22,"s":1},{"i":3,"j":23,"s":0},{"i":3,"j":24,"s":0},{"i":3,"j":25,"s":0},{"i":3,"j":26,"s":1},{"i":3,"j":27,"s":1},{"i":3,"j":28,"s":0},{"i":3,"j":29,"s":1},{"i":3,"j":30,"s":0},{"i":3,"j":31,"s":0},{"i":3,"j":32,"s":0},{"i":3,"j":33,"s":1},{"i":3,"j":34,"s":1},{"i":3,"j":35,"s":1},{"i":3,"j":36,"s":1},{"i":3,"j":37,"s":1},{"i":3,"j":38,"s":1},{"i":3,"j":39,"s":0},
{"i":2,"j":0,"s":0},{"i":2,"j":1,"s":0},{"i":2,"j":2,"s":0},{"i":2,"j":3,"s":0},{"i":2,"j":4,"s":1},{"i":2,"j":5,"s":0},{"i":2,"j":6,"s":0},{"i":2,"j":7,"s":0},{"i":2,"j":8,"s":0},{"i":2,"j":9,"s":1},{"i":2,"j":10,"s":1},{"i":2,"j":11,"s":0},{"i":2,"j":12,"s":0},{"i":2,"j":13,"s":0},{"i":2,"j":14,"s":1},{"i":2,"j":15,"s":1},{"i":2,"j":16,"s":1},{"i":2,"j":17,"s":1},{"i":2,"j":18,"s":0},{"i":2,"j":19,"s":1},{"i":2,"j":20,"s":0},{"i":2,"j":21,"s":1},{"i":2,"j":22,"s":1},{"i":2,"j":23,"s":0},{"i":2,"j":24,"s":0},{"i":2,"j":25,"s":0},{"i":2,"j":26,"s":0},{"i":2,"j":27,"s":0},{"i":2,"j":28,"s":1},{"i":2,"j":29,"s":0},{"i":2,"j":30,"s":0},{"i":2,"j":31,"s":1},{"i":2,"j":32,"s":0},{"i":2,"j":33,"s":0},{"i":2,"j":34,"s":1},{"i":2,"j":35,"s":1},{"i":2,"j":36,"s":0},{"i":2,"j":37,"s":1},{"i":2,"j":38,"s":1},{"i":2,"j":39,"s":1},
{"i":1,"j":0,"s":0},{"i":1,"j":1,"s":0},{"i":1,"j":2,"s":0},{"i":1,"j":3,"s":0},{"i":1,"j":4,"s":0},{"i":1,"j":5,"s":0},{"i":1,"j":6,"s":0},{"i":1,"j":7,"s":0},{"i":1,"j":8,"s":1},{"i":1,"j":9,"s":0},{"i":1,"j":10,"s":1},{"i":1,"j":11,"s":0},{"i":1,"j":12,"s":0},{"i":1,"j":13,"s":0},{"i":1,"j":14,"s":1},{"i":1,"j":15,"s":1},{"i":1,"j":16,"s":1},{"i":1,"j":17,"s":1},{"i":1,"j":18,"s":0},{"i":1,"j":19,"s":1},{"i":1,"j":20,"s":0},{"i":1,"j":21,"s":1},{"i":1,"j":22,"s":0},{"i":1,"j":23,"s":1},{"i":1,"j":24,"s":0},{"i":1,"j":25,"s":0},{"i":1,"j":26,"s":0},{"i":1,"j":27,"s":0},{"i":1,"j":28,"s":0},{"i":1,"j":29,"s":1},{"i":1,"j":30,"s":1},{"i":1,"j":31,"s":1},{"i":1,"j":32,"s":1},{"i":1,"j":33,"s":1},{"i":1,"j":34,"s":1},{"i":1,"j":35,"s":0},{"i":1,"j":36,"s":0},{"i":1,"j":37,"s":0},{"i":1,"j":38,"s":0},{"i":1,"j":39,"s":0},
{"i":0,"j":0,"s":1},{"i":0,"j":1,"s":0},{"i":0,"j":2,"s":0},{"i":0,"j":3,"s":0},{"i":0,"j":4,"s":0},{"i":0,"j":5,"s":0},{"i":0,"j":6,"s":0},{"i":0,"j":7,"s":0},{"i":0,"j":8,"s":0},{"i":0,"j":9,"s":1},{"i":0,"j":10,"s":1},{"i":0,"j":11,"s":1},{"i":0,"j":12,"s":1},{"i":0,"j":13,"s":1},{"i":0,"j":14,"s":1},{"i":0,"j":15,"s":1},{"i":0,"j":16,"s":0},{"i":0,"j":17,"s":1},{"i":0,"j":18,"s":1},{"i":0,"j":19,"s":0},{"i":0,"j":20,"s":1},{"i":0,"j":21,"s":1},{"i":0,"j":22,"s":0},{"i":0,"j":23,"s":1},{"i":0,"j":24,"s":1},{"i":0,"j":25,"s":0},{"i":0,"j":26,"s":1},{"i":0,"j":27,"s":0},{"i":0,"j":28,"s":1},{"i":0,"j":29,"s":1},{"i":0,"j":30,"s":1},{"i":0,"j":31,"s":1},{"i":0,"j":32,"s":0},{"i":0,"j":33,"s":1},{"i":0,"j":34,"s":1},{"i":0,"j":35,"s":1},{"i":0,"j":36,"s":1},{"i":0,"j":37,"s":1},{"i":0,"j":38,"s":0},{"i":0,"j":39,"s":0}
],
"series":[
{"t":0,"E":-0.045,"M":0.015},{"t":25,"E":-0.13,"M":0.042},{"t":50,"E":-0.22,"M":0.04},{"t":75,"E":-0.28,"M":0.0},{"t":100,"E":-0.33,"M":-0.005},{"t":125,"E":-0.37,"M":-0.011},{"t":150,"E":-0.41,"M":0.008},{"t":175,"E":-0.44,"M":0.002},{"t":200,"E":-0.47,"M":-0.025},{"t":225,"E":-0.5,"M":-0.032},{"t":250,"E":-0.44,"M":-0.01},{"t":275,"E":-0.46,"M":-0.031},{"t":300,"E":-0.52,"M":-0.045},{"t":325,"E":-0.49,"M":-0.003},{"t":350,"E":-0.46,"M":0.005},{"t":375,"E":-0.52,"M":-0.02},{"t":400,"E":-0.5,"M":-0.012},{"t":425,"E":-0.47,"M":0.004},{"t":450,"E":-0.58,"M":0.01},{"t":475,"E":-0.55,"M":0.004},
{"t":500,"E":-0.52,"M":-0.018},{"t":525,"E":-0.58,"M":-0.017},{"t":550,"E":-0.6,"M":0.006},{"t":575,"E":-0.53,"M":-0.011},{"t":600,"E":-0.55,"M":-0.03},{"t":625,"E":-0.59,"M":-0.013},{"t":650,"E":-0.62,"M":-0.01},{"t":675,"E":-0.56,"M":-0.032},{"t":700,"E":-0.63,"M":-0.035},{"t":725,"E":-0.58,"M":-0.021},{"t":750,"E":-0.5,"M":-0.012},{"t":775,"E":-0.53,"M":-0.018},{"t":800,"E":-0.56,"M":-0.04},{"t":825,"E":-0.51,"M":-0.062},{"t":850,"E":-0.48,"M":-0.06},{"t":875,"E":-0.55,"M":-0.064},{"t":900,"E":-0.54,"M":-0.073},{"t":925,"E":-0.5,"M":-0.033},{"t":950,"E":-0.47,"M":-0.02},{"t":975,"E":-0.53,"M":-0.02},
{"t":1000,"E":-0.55,"M":0.005},{"t":1025,"E":-0.5,"M":-0.008},{"t":1050,"E":-0.51,"M":-0.022},{"t":1075,"E":-0.56,"M":0.007},{"t":1100,"E":-0.6,"M":0.008},{"t":1125,"E":-0.55,"M":-0.014},{"t":1150,"E":-0.53,"M":-0.01},{"t":1175,"E":-0.59,"M":0.016},{"t":1200,"E":-0.61,"M":0.03},{"t":1225,"E":-0.55,"M":0.058},{"t":1250,"E":-0.52,"M":0.06},{"t":1275,"E":-0.59,"M":0.023},{"t":1300,"E":-0.57,"M":0.02},{"t":1325,"E":-0.51,"M":0.039},{"t":1350,"E":-0.49,"M":0.045},{"t":1375,"E":-0.53,"M":0.058},{"t":1400,"E":-0.55,"M":0.062},{"t":1425,"E":-0.47,"M":0.033},{"t":1450,"E":-0.445,"M":0.025},{"t":1475,"E":-0.51,"M":0.044},
{"t":1500,"E":-0.53,"M":0.055},{"t":1525,"E":-0.56,"M":0.044},{"t":1550,"E":-0.58,"M":0.015},{"t":1575,"E":-0.52,"M":0.018},{"t":1600,"E":-0.5,"M":0.04},{"t":1625,"E":-0.56,"M":0.022},{"t":1650,"E":-0.59,"M":0.0},{"t":1675,"E":-0.54,"M":-0.003},{"t":1700,"E":-0.52,"M":-0.025},{"t":1725,"E":-0.58,"M":-0.032},{"t":1750,"E":-0.57,"M":-0.01},{"t":1775,"E":-0.51,"M":-0.026},{"t":1800,"E":-0.49,"M":-0.045},{"t":1825,"E":-0.54,"M":-0.023},{"t":1850,"E":-0.55,"M":-0.03},{"t":1875,"E":-0.5,"M":-0.062},{"t":1900,"E":-0.48,"M":-0.065},{"t":1925,"E":-0.55,"M":-0.046},{"t":1950,"E":-0.56,"M":-0.04},{"t":1975,"E":-0.53,"M":-0.048},
{"t":2000,"E":-0.5,"M":-0.072},{"t":2025,"E":-0.55,"M":-0.078},{"t":2050,"E":-0.57,"M":-0.08},{"t":2075,"E":-0.52,"M":-0.056},{"t":2100,"E":-0.52,"M":-0.045},{"t":2125,"E":-0.57,"M":-0.043},{"t":2150,"E":-0.59,"M":-0.062},{"t":2175,"E":-0.54,"M":-0.057},{"t":2200,"E":-0.53,"M":-0.03},{"t":2225,"E":-0.55,"M":-0.041},{"t":2250,"E":-0.58,"M":-0.058},{"t":2275,"E":-0.57,"M":-0.033},{"t":2300,"E":-0.52,"M":-0.035},{"t":2325,"E":-0.54,"M":-0.064},{"t":2350,"E":-0.59,"M":-0.065},{"t":2375,"E":-0.57,"M":-0.031},{"t":2400,"E":-0.54,"M":-0.008},{"t":2425,"E":-0.56,"M":-0.018},{"t":2450,"E":-0.58,"M":-0.05},{"t":2475,"E":-0.54,"M":-0.052},
{"t":2500,"E":-0.53,"M":-0.03},{"t":2525,"E":-0.58,"M":-0.048},{"t":2550,"E":-0.6,"M":-0.068},{"t":2575,"E":-0.55,"M":-0.04},{"t":2600,"E":-0.55,"M":-0.04},{"t":2625,"E":-0.57,"M":-0.062},{"t":2650,"E":-0.59,"M":-0.062},{"t":2675,"E":-0.55,"M":-0.038},{"t":2700,"E":-0.56,"M":-0.025},{"t":2725,"E":-0.59,"M":-0.03},{"t":2750,"E":-0.64,"M":-0.055},{"t":2775,"E":-0.62,"M":-0.052},{"t":2800,"E":-0.57,"M":-0.03},{"t":2825,"E":-0.53,"M":-0.036},{"t":2850,"E":-0.48,"M":-0.048},{"t":2875,"E":-0.5,"M":-0.021},{"t":2900,"E":-0.55,"M":-0.022},{"t":2925,"E":-0.57,"M":-0.045},{"t":2950,"E":-0.52,"M":-0.04},{"t":2975,"E":-0.56,"M":-0.016},
{"t":3000,"E":-0.59,"M":-0.005},{"t":3025,"E":-0.58,"M":-0.008},{"t":3050,"E":-0.53,"M":-0.03},{"t":3075,"E":-0.55,"M":-0.024},{"t":3100,"E":-0.6,"M":0.005},{"t":3125,"E":-0.57,"M":-0.004},{"t":3150,"E":-0.52,"M":-0.02},{"t":3175,"E":-0.54,"M":-0.003},{"t":3200,"E":-0.57,"M":-0.005},{"t":3225,"E":-0.58,"M":-0.032},{"t":3250,"E":-0.53,"M":-0.035},{"t":3275,"E":-0.56,"M":-0.008},{"t":3300,"E":-0.6,"M":0.005},{"t":3325,"E":-0.58,"M":0.004},{"t":3350,"E":-0.55,"M":-0.015},{"t":3375,"E":-0.54,"M":-0.017},{"t":3400,"E":-0.58,"M":0.008},{"t":3425,"E":-0.57,"M":-0.004},{"t":3450,"E":-0.52,"M":-0.022},{"t":3475,"E":-0.55,"M":0.002},
{"t":3500,"E":-0.59,"M":0.0},{"t":3525,"E":-0.57,"M":-0.016},{"t":3550,"E":-0.54,"M":-0.012},{"t":3575,"E":-0.55,"M":0.014},{"t":3600,"E":-0.59,"M":0.025},{"t":3625,"E":-0.57,"M":0.032},{"t":3650,"E":-0.53,"M":0.01},{"t":3675,"E":-0.54,"M":0.023},{"t":3700,"E":-0.57,"M":0.06},{"t":3725,"E":-0.55,"M":0.044},{"t":3750,"E":-0.52,"M":0.015},{"t":3775,"E":-0.57,"M":0.037},{"t":3800,"E":-0.58,"M":0.038},{"t":3825,"E":-0.54,"M":0.01},{"t":3850,"E":-0.52,"M":0.005},{"t":3875,"E":-0.56,"M":0.022},{"t":3900,"E":-0.57,"M":0.03},{"t":3925,"E":-0.53,"M":0.032},{"t":3950,"E":-0.51,"M":0.01},{"t":3975,"E":-0.56,"M":0.013},
{"t":4000,"E":-0.58,"M":0.035},{"t":4025,"E":-0.55,"M":0.03},{"t":4050,"E":-0.53,"M":0.015},{"t":4075,"E":-0.57,"M":0.032},{"t":4100,"E":-0.59,"M":0.03},{"t":4125,"E":-0.56,"M":0.013},{"t":4150,"E":-0.55,"M":0.018},{"t":4175,"E":-0.58,"M":0.059},{"t":4200,"E":-0.6,"M":0.094},{"t":4225,"E":-0.57,"M":0.092},{"t":4250,"E":-0.56,"M":0.06},{"t":4275,"E":-0.6,"M":0.083},{"t":4300,"E":-0.62,"M":0.1245},{"t":4325,"E":-0.64,"M":0.089},{"t":4350,"E":-0.66,"M":0.04},{"t":4375,"E":-0.61,"M":0.087},{"t":4400,"E":-0.57,"M":0.11},{"t":4425,"E":-0.56,"M":0.056},{"t":4450,"E":-0.53,"M":0.02},{"t":4475,"E":-0.57,"M":0.049},
{"t":4500,"E":-0.58,"M":0.068},{"t":4525,"E":-0.55,"M":0.057},{"t":4550,"E":-0.54,"M":0.02},{"t":4575,"E":-0.57,"M":0.023},{"t":4600,"E":-0.57,"M":0.055},{"t":4625,"E":-0.55,"M":0.034},{"t":4650,"E":-0.53,"M":0.0},{"t":4675,"E":-0.57,"M":-0.018},{"t":4700,"E":-0.58,"M":-0.056},{"t":4725,"E":-0.54,"M":-0.052},{"t":4750,"E":-0.52,"M":-0.02},{"t":4775,"E":-0.57,"M":-0.021},{"t":4800,"E":-0.56,"M":-0.034},{"t":4825,"E":-0.5,"M":-0.008},{"t":4850,"E":-0.47,"M":-0.008},{"t":4875,"E":-0.53,"M":-0.032},{"t":4900,"E":-0.52,"M":-0.03},{"t":4925,"E":-0.48,"M":-0.018},{"t":4950,"E":-0.465,"M":-0.01},{"t":4975,"E":-0.51,"M":-0.016},
{"t":5000,"E":-0.53,"M":-0.045},{"t":5025,"E":-0.51,"M":-0.037},{"t":5050,"E":-0.48,"M":-0.005},{"t":5075,"E":-0.53,"M":0.009},{"t":5100,"E":-0.55,"M":0.015},{"t":5125,"E":-0.52,"M":0.042},{"t":5150,"E":-0.49,"M":0.045},{"t":5175,"E":-0.54,"M":0.008},{"t":5200,"E":-0.56,"M":-0.01},{"t":5225,"E":-0.52,"M":0.002},{"t":5250,"E":-0.5,"M":0.012},{"t":5275,"E":-0.54,"M":0.002},{"t":5300,"E":-0.55,"M":-0.03},{"t":5325,"E":-0.5,"M":-0.027},{"t":5350,"E":-0.48,"M":0.0},{"t":5375,"E":-0.53,"M":-0.021},{"t":5400,"E":-0.52,"M":-0.045},{"t":5425,"E":-0.5,"M":-0.053},{"t":5450,"E":-0.47,"M":-0.083},{"t":5475,"E":-0.51,"M":-0.067},
{"t":5500,"E":-0.53,"M":-0.03},{"t":5525,"E":-0.48,"M":-0.048},{"t":5550,"E":-0.46,"M":-0.07},{"t":5575,"E":-0.44,"M":-0.028},{"t":5600,"E":-0.425,"M":-0.01},{"t":5625,"E":-0.47,"M":-0.032},{"t":5650,"E":-0.5,"M":-0.03},{"t":5675,"E":-0.49,"M":-0.011},{"t":5700,"E":-0.47,"M":-0.002},{"t":5725,"E":-0.5,"M":-0.003},{"t":5750,"E":-0.54,"M":-0.028},{"t":5775,"E":-0.52,"M":-0.032},{"t":5800,"E":-0.49,"M":-0.008},{"t":5825,"E":-0.51,"M":-0.018},{"t":5850,"E":-0.55,"M":-0.035},{"t":5875,"E":-0.53,"M":-0.03},{"t":5900,"E":-0.5,"M":-0.05},{"t":5925,"E":-0.54,"M":-0.05},{"t":5950,"E":-0.56,"M":-0.025},{"t":5975,"E":-0.53,"M":-0.046},
{"t":6000,"E":-0.51,"M":-0.07},{"t":6025,"E":-0.56,"M":-0.043},{"t":6050,"E":-0.58,"M":-0.04},{"t":6075,"E":-0.56,"M":-0.074},{"t":6100,"E":-0.55,"M":-0.085},{"t":6125,"E":-0.6,"M":-0.064},{"t":6150,"E":-0.62,"M":-0.05},{"t":6175,"E":-0.58,"M":-0.05},{"t":6200,"E":-0.57,"M":-0.078},{"t":6225,"E":-0.61,"M":-0.074},{"t":6250,"E":-0.63,"M":-0.045},{"t":6275,"E":-0.6,"M":-0.064},{"t":6300,"E":-0.58,"M":-0.091},{"t":6325,"E":-0.62,"M":-0.063},{"t":6350,"E":-0.6,"M":-0.055},{"t":6375,"E":-0.57,"M":-0.08},{"t":6400,"E":-0.55,"M":-0.08},{"t":6425,"E":-0.53,"M":-0.056},{"t":6450,"E":-0.5,"M":-0.04},{"t":6475,"E":-0.55,"M":-0.046},
{"t":6500,"E":-0.58,"M":-0.075},{"t":6525,"E":-0.54,"M":-0.067},{"t":6550,"E":-0.52,"M":-0.036},{"t":6575,"E":-0.57,"M":-0.046},{"t":6600,"E":-0.59,"M":-0.065},{"t":6625,"E":-0.55,"M":-0.026},{"t":6650,"E":-0.53,"M":-0.01},{"t":6675,"E":-0.58,"M":-0.037},{"t":6700,"E":-0.6,"M":-0.04},{"t":6725,"E":-0.57,"M":-0.021},{"t":6750,"E":-0.56,"M":-0.007},{"t":6775,"E":-0.59,"M":-0.016},{"t":6800,"E":-0.58,"M":-0.045},{"t":6825,"E":-0.6,"M":-0.068},{"t":6850,"E":-0.62,"M":-0.068},{"t":6875,"E":-0.6,"M":-0.048},{"t":6900,"E":-0.59,"M":-0.036},{"t":6925,"E":-0.62,"M":-0.011},{"t":6950,"E":-0.63,"M":-0.01},{"t":6975,"E":-0.61,"M":-0.01},
{"t":7000,"E":-0.6,"M":0.015},{"t":7025,"E":-0.63,"M":0.002},{"t":7050,"E":-0.65,"M":-0.02},{"t":7075,"E":-0.61,"M":0.012},{"t":7100,"E":-0.59,"M":0.023},{"t":7125,"E":-0.6,"M":-0.008},{"t":7150,"E":-0.62,"M":-0.015},{"t":7175,"E":-0.59,"M":-0.004},{"t":7200,"E":-0.57,"M":0.0},{"t":7225,"E":-0.58,"M":-0.013},{"t":7250,"E":-0.6,"M":-0.045},{"t":7275,"E":-0.57,"M":-0.04},{"t":7300,"E":-0.55,"M":-0.01},{"t":7325,"E":-0.58,"M":-0.031},{"t":7350,"E":-0.6,"M":-0.056},{"t":7375,"E":-0.55,"M":-0.028},{"t":7400,"E":-0.52,"M":-0.02},{"t":7425,"E":-0.49,"M":-0.057},{"t":7450,"E":-0.458,"M":-0.065},{"t":7475,"E":-0.47,"M":-0.044},
{"t":7500,"E":-0.5,"M":-0.03},{"t":7525,"E":-0.52,"M":-0.038},{"t":7550,"E":-0.55,"M":-0.071},{"t":7575,"E":-0.53,"M":-0.065},{"t":7600,"E":-0.5,"M":-0.035},{"t":7625,"E":-0.52,"M":-0.008},{"t":7650,"E":-0.56,"M":0.01},{"t":7675,"E":-0.53,"M":0.007},{"t":7700,"E":-0.51,"M":-0.02},{"t":7725,"E":-0.52,"M":-0.014},{"t":7750,"E":-0.54,"M":0.015},{"t":7775,"E":-0.5,"M":0.006},{"t":7800,"E":-0.48,"M":-0.01},{"t":7825,"E":-0.52,"M":-0.006},{"t":7850,"E":-0.54,"M":-0.026},{"t":7875,"E":-0.51,"M":-0.027},{"t":7900,"E":-0.49,"M":-0.005},{"t":7925,"E":-0.53,"M":-0.021},{"t":7950,"E":-0.56,"M":-0.045},{"t":7975,"E":-0.52,"M":-0.016},
{"t":8000,"E":-0.5,"M":-0.01},{"t":8025,"E":-0.53,"M":-0.042},{"t":8050,"E":-0.55,"M":-0.051},{"t":8075,"E":-0.5,"M":-0.021},{"t":8100,"E":-0.48,"M":-0.002},{"t":8125,"E":-0.52,"M":-0.003},{"t":8150,"E":-0.54,"M":-0.03},{"t":8175,"E":-0.51,"M":-0.017},{"t":8200,"E":-0.5,"M":0.02},{"t":8225,"E":-0.54,"M":0.009},{"t":8250,"E":-0.56,"M":-0.01},{"t":8275,"E":-0.53,"M":0.025},{"t":8300,"E":-0.51,"M":0.036},{"t":8325,"E":-0.55,"M":0.006},{"t":8350,"E":-0.57,"M":0.0},{"t":8375,"E":-0.55,"M":0.016},{"t":8400,"E":-0.54,"M":0.025},{"t":8425,"E":-0.57,"M":0.022},{"t":8450,"E":-0.6,"M":-0.005},{"t":8475,"E":-0.57,"M":-0.006},
{"t":8500,"E":-0.56,"M":0.018},{"t":8525,"E":-0.6,"M":-0.002},{"t":8550,"E":-0.62,"M":-0.03},{"t":8575,"E":-0.59,"M":0.002},{"t":8600,"E":-0.58,"M":0.01},{"t":8625,"E":-0.6,"M":-0.025},{"t":8650,"E":-0.61,"M":-0.036},{"t":8675,"E":-0.58,"M":-0.011},{"t":8700,"E":-0.57,"M":0.005},{"t":8725,"E":-0.62,"M":0.004},{"t":8750,"E":-0.65,"M":-0.02},{"t":8775,"E":-0.62,"M":-0.015},{"t":8800,"E":-0.6,"M":0.013},{"t":8825,"E":-0.64,"M":0.003},{"t":8850,"E":-0.675,"M":-0.015},{"t":8875,"E":-0.64,"M":0.008},{"t":8900,"E":-0.62,"M":0.008},{"t":8925,"E":-0.65,"M":-0.021},{"t":8950,"E":-0.67,"M":-0.026},{"t":8975,"E":-0.63,"M":-0.006},
{"t":9000,"E":-0.6,"M":0.005},{"t":9025,"E":-0.62,"M":0.007},{"t":9050,"E":-0.64,"M":-0.015},{"t":9075,"E":-0.6,"M":0.001},{"t":9100,"E":-0.58,"M":0.042},{"t":9125,"E":-0.61,"M":0.03},{"t":9150,"E":-0.63,"M":0.01},{"t":9175,"E":-0.59,"M":0.032},{"t":9200,"E":-0.57,"M":0.03},{"t":9225,"E":-0.6,"M":0.007},{"t":9250,"E":-0.62,"M":0.008},{"t":9275,"E":-0.58,"M":0.03},{"t":9300,"E":-0.56,"M":0.045},{"t":9325,"E":-0.59,"M":0.062},{"t":9350,"E":-0.61,"M":0.07},{"t":9375,"E":-0.57,"M":0.038},{"t":9400,"E":-0.55,"M":0.03},{"t":9425,"E":-0.58,"M":0.044},{"t":9450,"E":-0.6,"M":0.049},{"t":9475,"E":-0.55,"M":0.042},
{"t":9500,"E":-0.53,"M":0.01},{"t":9525,"E":-0.57,"M":0.013},{"t":9550,"E":-0.59,"M":0.04},{"t":9575,"E":-0.57,"M":0.026},{"t":9600,"E":-0.56,"M":0.005},{"t":9625,"E":-0.59,"M":0.032},{"t":9650,"E":-0.63,"M":0.035},{"t":9675,"E":-0.6,"M":0.012},{"t":9700,"E":-0.57,"M":0.012},{"t":9725,"E":-0.59,"M":0.034},{"t":9750,"E":-0.62,"M":0.047},{"t":9775,"E":-0.6,"M":0.043},{"t":9800,"E":-0.58,"M":0.015},{"t":9825,"E":-0.61,"M":0.016},{"t":9850,"E":-0.63,"M":0.04},{"t":9875,"E":-0.61,"M":0.03},{"t":9900,"E":-0.59,"M":0.013},{"t":9925,"E":-0.6,"M":0.036},{"t":9950,"E":-0.62,"M":0.035},{"t":9975,"E":-0.61,"M":0.019},
{"t":9999,"E":-0.61,"M":0.028}
]
},
"hconcat":[
{
"width":238,"height":320,
"view":{"fill":"#440154","stroke":"black","strokeWidth":1.1},
"layer":[
{"data":{"name":"grid"},
"mark":{"type":"rect","strokeWidth":1},
"encoding":{
"x":{"field":"j","type":"quantitative","bin":{"binned":true,"step":1},"scale":{"domain":[0,40],"nice":false,"zero":false},"axis":{"values":[0,10,20,30,40],"format":"d","title":"j"}},
"y":{"field":"i","type":"quantitative","bin":{"binned":true,"step":1},"scale":{"domain":[0,40],"nice":false,"zero":false},"axis":{"values":[0,5,10,15,20,25,30,35,40],"format":"d","title":"i","titleFontStyle":"italic"}},
"color":{"field":"s","type":"nominal","scale":{"domain":[0,1],"range":["#440154","#fde725"]},"legend":null},
"stroke":{"field":"s","type":"nominal","scale":{"domain":[0,1],"range":["#440154","#fde725"]},"legend":null}
}},
{"data":{"values":[{}]},
"mark":{"type":"rect","filled":false,"color":"black","strokeWidth":1.1},
"encoding":{}}
]
},
{
"width":238,"height":320,
"data":{"name":"series"},
"mark":{"type":"line","color":"#1f77b4","strokeWidth":2},
"encoding":{
"x":{"field":"t","type":"quantitative","scale":{"domain":[-500,10500],"nice":false,"zero":false},"axis":{"values":[0,2500,5000,7500,10000],"format":"d","title":"steps"}},
"y":{"field":"E","type":"quantitative","scale":{"domain":[-0.7073,-0.018],"nice":false,"zero":false},"axis":{"values":[-0.7,-0.6,-0.5,-0.4,-0.3,-0.2,-0.1],"format":".1f","title":"E","titleFontStyle":"italic"}}
}
},
{
"width":238,"height":320,
"data":{"name":"series"},
"mark":{"type":"line","color":"#1f77b4","strokeWidth":2},
"encoding":{
"x":{"field":"t","type":"quantitative","scale":{"domain":[-500,10500],"nice":false,"zero":false},"axis":{"values":[0,2500,5000,7500,10000],"format":"d","title":"steps"}},
"y":{"field":"M","type":"quantitative","scale":{"domain":[-0.102,0.1333],"nice":false,"zero":false},"axis":{"values":[-0.1,-0.05,0,0.05,0.1],"format":".2f","title":"M","titleFontStyle":"italic"}}
}
}
]
}
